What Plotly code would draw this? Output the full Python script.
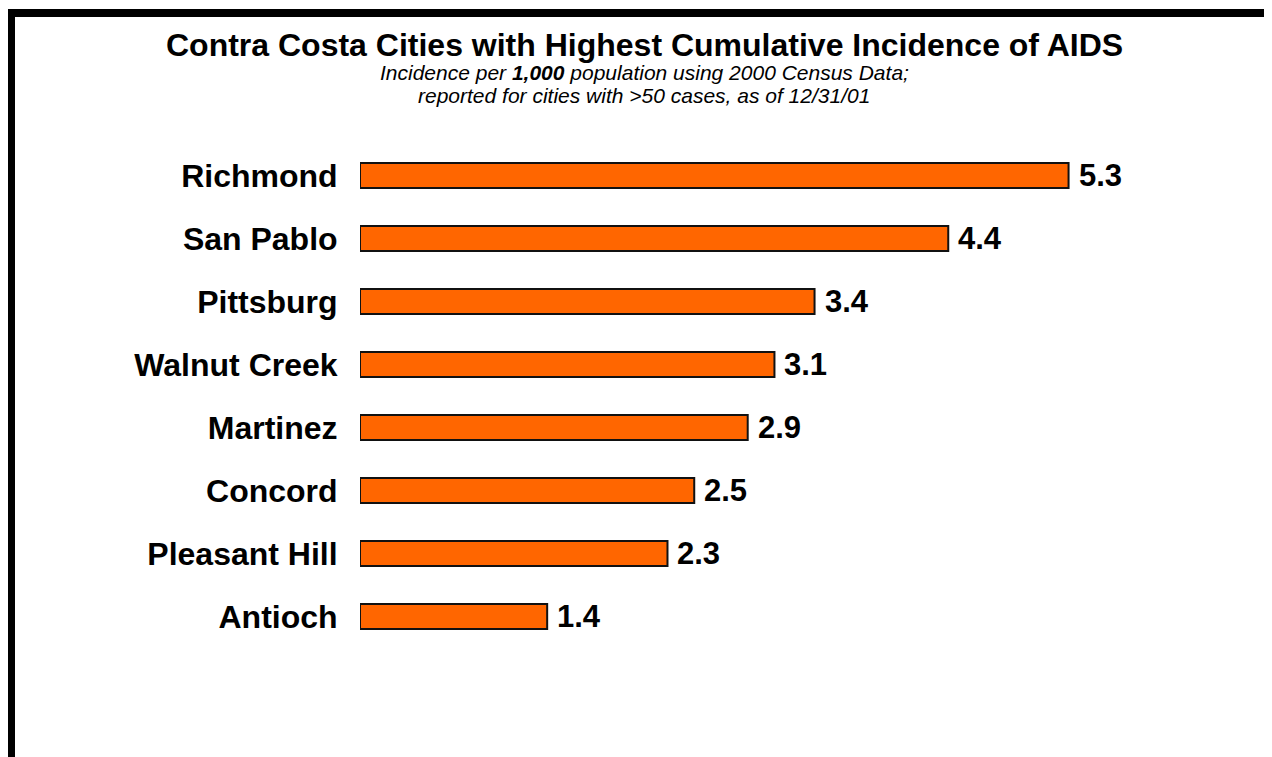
import plotly.graph_objects as go

cities = ["Richmond", "San Pablo", "Pittsburg", "Walnut Creek", "Martinez",
          "Concord", "Pleasant Hill", "Antioch"]
incidence = [5.3, 4.4, 3.4, 3.1, 2.9, 2.5, 2.3, 1.4]
value_labels = ["5.3", "4.4", "3.4", "3.1", "2.9", "2.5", "2.3", "1.4"]

title_text = "<b>Contra Costa Cities with Highest Cumulative Incidence of AIDS</b>"
subtitle_1 = "<i>Incidence per <b>1,000</b> population using 2000 Census Data;</i>"
subtitle_2 = "<i>reported for cities with >50 cases, as of 12/31/01</i>"

FONT = "Liberation Sans, Arial, sans-serif"
OFF = 8  # page offset of the figure inside the browser window
W, H = 1272, 757
L, R, T, B = 352, 51, 136, 117
PW, PH = W - L - R, H - T - B


def px_x(px):
    return (px - OFF - L) / PW


def px_y(py):
    return (H - B - (py - OFF)) / PH


fig = go.Figure()
fig.add_trace(go.Bar(
    x=incidence, y=cities, orientation="h", width=0.4,
    marker=dict(color="#FF6600", line=dict(color="#111111", width=2)),
    hoverinfo="skip",
))

annotations = []
for v, c, t in zip(incidence, cities, value_labels):
    annotations.append(dict(
        x=v, y=c, xref="x", yref="y", text="<b>%s</b>" % t, showarrow=False,
        xanchor="left", yanchor="middle", xshift=8,
        font=dict(family=FONT, size=31, color="black")))

annotations.append(dict(
    x=px_x(644), y=px_y(45), xref="paper", yref="paper", text=title_text,
    showarrow=False, xanchor="center", yanchor="middle",
    font=dict(family=FONT, size=32, color="black")))
annotations.append(dict(
    x=px_x(644), y=px_y(72), xref="paper", yref="paper", text=subtitle_1,
    showarrow=False, xanchor="center", yanchor="middle",
    font=dict(family=FONT, size=21, color="black")))
annotations.append(dict(
    x=px_x(644), y=px_y(96), xref="paper", yref="paper", text=subtitle_2,
    showarrow=False, xanchor="center", yanchor="middle",
    font=dict(family=FONT, size=21, color="black")))

shapes = [
    # top border line
    dict(type="rect", xref="paper", yref="paper",
         x0=px_x(7), x1=px_x(1290), y0=px_y(17), y1=px_y(9),
         fillcolor="black", line=dict(width=0), layer="above"),
    # left border line
    dict(type="rect", xref="paper", yref="paper",
         x0=px_x(7), x1=px_x(15), y0=px_y(780), y1=px_y(9),
         fillcolor="black", line=dict(width=0), layer="above"),
]

fig.update_layout(
    width=W, height=H,
    margin=dict(l=L, r=R, t=T, b=B, pad=0),
    paper_bgcolor="white", plot_bgcolor="white",
    showlegend=False,
    xaxis=dict(range=[0, 6.5], visible=False, fixedrange=True),
    yaxis=dict(
        range=[len(cities) - 0.5, -0.5], showgrid=False, zeroline=False,
        showline=False, ticks="outside", ticklen=15,
        tickcolor="rgba(0,0,0,0)",
        tickfont=dict(family=FONT, size=32, color="black", weight="bold"),
        fixedrange=True),
    annotations=annotations,
    shapes=shapes,
)

fig.write_html("out.html")
